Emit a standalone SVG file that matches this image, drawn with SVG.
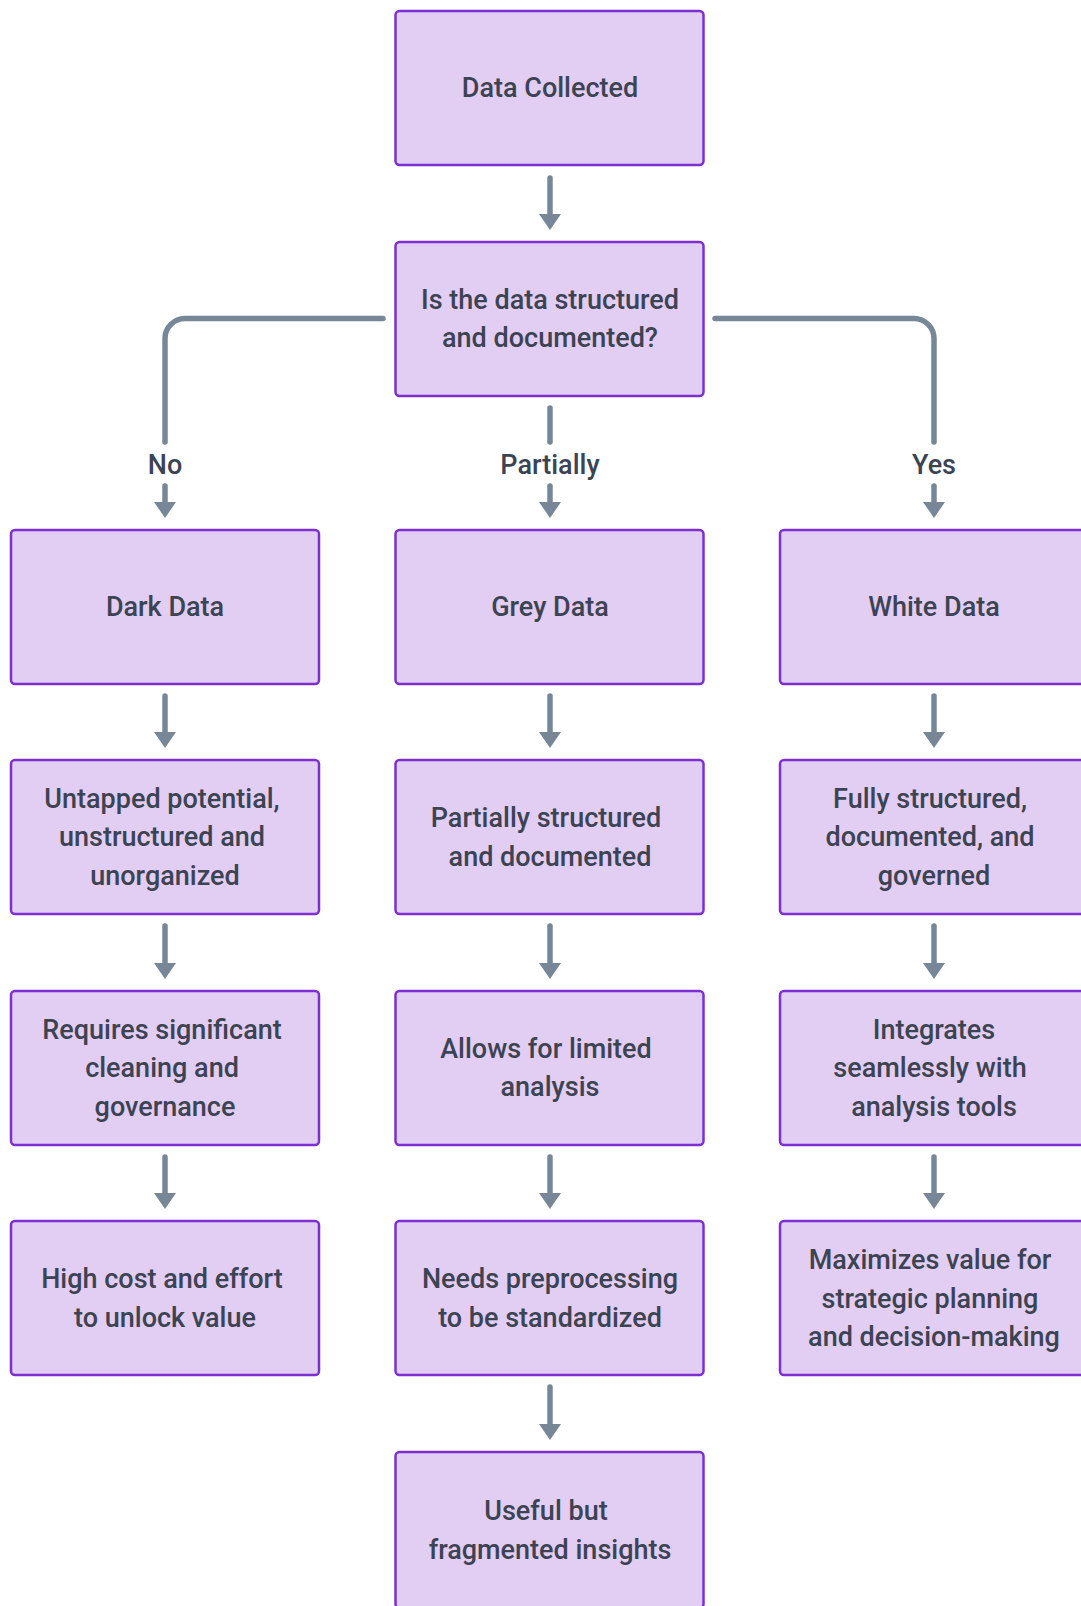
<svg xmlns="http://www.w3.org/2000/svg" width="1081" height="1606" viewBox="0 0 1081 1606">
  <style>
    .box { fill: #e2cdf3; stroke: #7e2fd2; stroke-width: 2.5; }
    .txt { font-family: Roboto, "Liberation Sans", sans-serif; font-size: 27px; font-weight: 500; fill: #3c4352; text-anchor: middle; dominant-baseline: central; }
    .edge { fill: none; stroke: #778797; stroke-width: 5.5; stroke-linecap: round; }
  </style>
  <defs>
    <marker id="head" markerUnits="userSpaceOnUse" viewBox="0 0 16 22" refX="4" refY="11" markerWidth="16" markerHeight="22" orient="auto">
      <path d="M0,0 L16,11 L0,22 z" fill="#778797"/>
    </marker>
  </defs>
  <rect width="1081" height="1606" fill="#ffffff"/>

  <!-- connectors -->
  <g id="connectors">
    <path class="edge" d="M550,178 V218" marker-end="url(#head)"/>
    <path class="edge" d="M383,318.5 H185 A20,20 0 0 0 165,338.5 V442"/>
    <path class="edge" d="M550,408 V442"/>
    <path class="edge" d="M715,318.5 H914 A20,20 0 0 1 934,338.5 V442"/>
    <text class="txt" x="165" y="465">No</text>
    <text class="txt" x="550" y="465">Partially</text>
    <text class="txt" x="934" y="465">Yes</text>
    <path class="edge" d="M165,486 V506" marker-end="url(#head)"/>
    <path class="edge" d="M550,486 V506" marker-end="url(#head)"/>
    <path class="edge" d="M934,486 V506" marker-end="url(#head)"/>
    <path class="edge" d="M165,696 V736" marker-end="url(#head)"/>
    <path class="edge" d="M550,696 V736" marker-end="url(#head)"/>
    <path class="edge" d="M934,696 V736" marker-end="url(#head)"/>
    <path class="edge" d="M165,926 V967" marker-end="url(#head)"/>
    <path class="edge" d="M550,926 V967" marker-end="url(#head)"/>
    <path class="edge" d="M934,926 V967" marker-end="url(#head)"/>
    <path class="edge" d="M165,1157 V1197" marker-end="url(#head)"/>
    <path class="edge" d="M550,1157 V1197" marker-end="url(#head)"/>
    <path class="edge" d="M934,1157 V1197" marker-end="url(#head)"/>
    <path class="edge" d="M550,1387 V1428" marker-end="url(#head)"/>
  </g>

  <!-- top and decision -->
  <g id="n-collected">
    <rect class="box" x="395.5" y="11" width="308" height="154" rx="4"/>
    <text class="txt" x="550" y="88">Data Collected</text>
  </g>
  <g id="n-question">
    <rect class="box" x="395.5" y="242" width="308" height="154" rx="4"/>
    <text class="txt" x="550" y="299.5">Is the data structured</text>
    <text class="txt" x="550" y="338">and documented?</text>
  </g>

  <!-- dark data column -->
  <g id="n-dark">
    <rect class="box" x="11" y="530" width="308" height="154" rx="4"/>
    <text class="txt" x="165" y="607">Dark Data</text>
  </g>
  <g id="n-dark-1">
    <rect class="box" x="11" y="760" width="308" height="154" rx="4"/>
    <text class="txt" x="162" y="798.5">Untapped potential,</text>
    <text class="txt" x="162" y="837">unstructured and</text>
    <text class="txt" x="165" y="875.5">unorganized</text>
  </g>
  <g id="n-dark-2">
    <rect class="box" x="11" y="991" width="308" height="154" rx="4"/>
    <text class="txt" x="162" y="1029.5">Requires significant</text>
    <text class="txt" x="162" y="1068">cleaning and</text>
    <text class="txt" x="165" y="1106.5">governance</text>
  </g>
  <g id="n-dark-3">
    <rect class="box" x="11" y="1221" width="308" height="154" rx="4"/>
    <text class="txt" x="162" y="1279">High cost and effort</text>
    <text class="txt" x="165" y="1318">to unlock value</text>
  </g>

  <!-- grey data column -->
  <g id="n-grey">
    <rect class="box" x="395.5" y="530" width="308" height="154" rx="4"/>
    <text class="txt" x="550" y="607">Grey Data</text>
  </g>
  <g id="n-grey-1">
    <rect class="box" x="395.5" y="760" width="308" height="154" rx="4"/>
    <text class="txt" x="546" y="818">Partially structured</text>
    <text class="txt" x="550" y="857">and documented</text>
  </g>
  <g id="n-grey-2">
    <rect class="box" x="395.5" y="991" width="308" height="154" rx="4"/>
    <text class="txt" x="546" y="1048.5">Allows for limited</text>
    <text class="txt" x="550" y="1087">analysis</text>
  </g>
  <g id="n-grey-3">
    <rect class="box" x="395.5" y="1221" width="308" height="154" rx="4"/>
    <text class="txt" x="550" y="1279">Needs preprocessing</text>
    <text class="txt" x="550" y="1318">to be standardized</text>
  </g>
  <g id="n-grey-4">
    <rect class="box" x="395.5" y="1452" width="308" height="156" rx="4"/>
    <text class="txt" x="546" y="1511">Useful but</text>
    <text class="txt" x="550" y="1549.5">fragmented insights</text>
  </g>

  <!-- white data column -->
  <g id="n-white">
    <rect class="box" x="780" y="530" width="308" height="154" rx="4"/>
    <text class="txt" x="934" y="607">White Data</text>
  </g>
  <g id="n-white-1">
    <rect class="box" x="780" y="760" width="308" height="154" rx="4"/>
    <text class="txt" x="930" y="798.5">Fully structured,</text>
    <text class="txt" x="930" y="837">documented, and</text>
    <text class="txt" x="934" y="875.5">governed</text>
  </g>
  <g id="n-white-2">
    <rect class="box" x="780" y="991" width="308" height="154" rx="4"/>
    <text class="txt" x="934" y="1029.5">Integrates</text>
    <text class="txt" x="930" y="1068">seamlessly with</text>
    <text class="txt" x="934" y="1106.5">analysis tools</text>
  </g>
  <g id="n-white-3">
    <rect class="box" x="780" y="1221" width="308" height="154" rx="4"/>
    <text class="txt" x="930" y="1260">Maximizes value for</text>
    <text class="txt" x="930" y="1298.5">strategic planning</text>
    <text class="txt" x="934" y="1337">and decision-making</text>
  </g>
</svg>
